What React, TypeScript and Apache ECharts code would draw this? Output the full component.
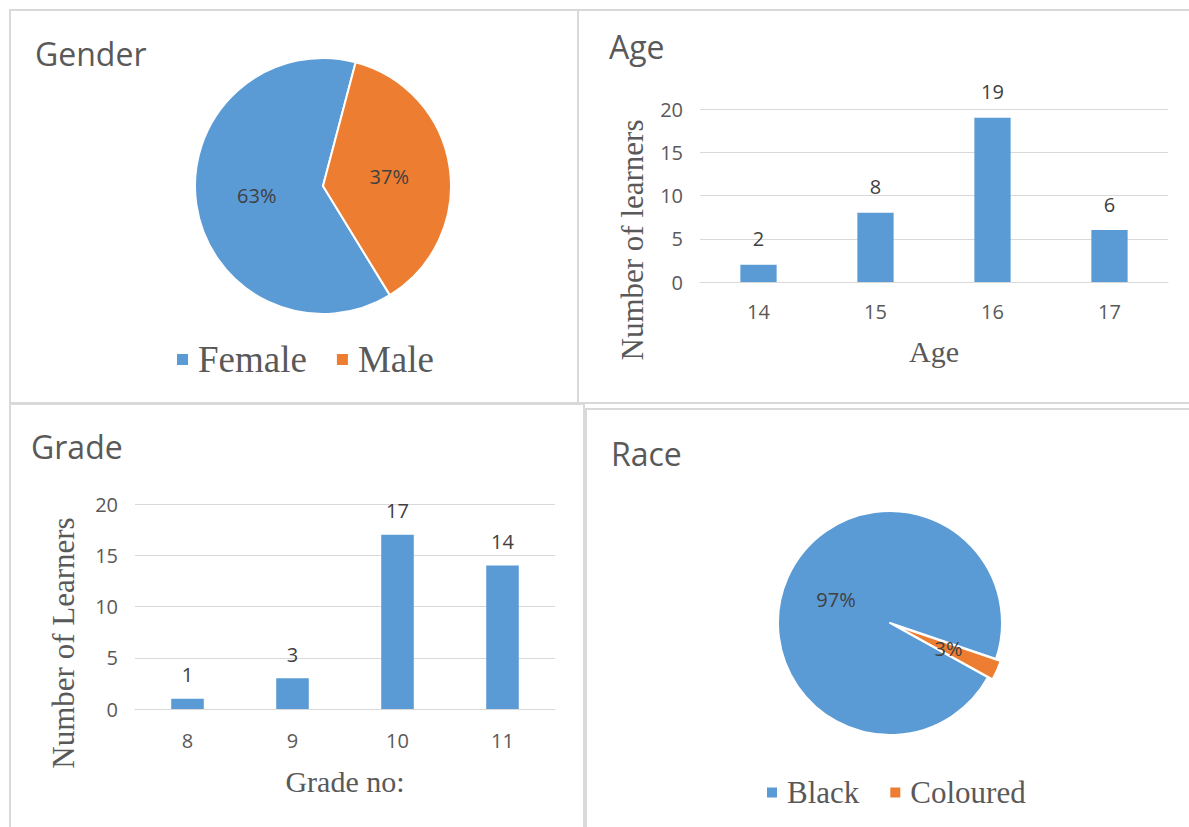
import React, { useEffect, useRef } from "react";
import * as echarts from "echarts";

// ---- data ----
const genderLabels = ["Female", "Male"];
const genderCounts = [22, 13];
const ageCategories = ["14", "15", "16", "17"];
const ageCounts = [2, 8, 19, 6];
const gradeCategories = ["8", "9", "10", "11"];
const gradeCounts = [1, 3, 17, 14];
const raceLabels = ["Black", "Coloured"];
const raceCounts = [34, 1];
const yMin = 0;
const yMax = 20;
const yInterval = 5;

// ---- styles ----
const BLUE = "#5b9bd5";
const ORANGE = "#ed7d31";
const SANS = "'Open Sans', sans-serif";
const SERIF = "'Liberation Serif', 'Times New Roman', serif";
const GREY_TEXT = "#595959";
const DARK_TEXT = "#404040";
const LINE = "#d9d9d9";

const pct = (p: any) => Math.round(p.percent) + "%";

export default function App() {
  const ref = useRef<HTMLDivElement>(null);
  useEffect(() => {
    if (!ref.current) return;
    const chart = echarts.init(ref.current, undefined, { renderer: "svg" });

    const titleStyle = { fontFamily: SANS, fontSize: 32, fontWeight: "normal" as const, color: GREY_TEXT };
    const valueAxis = (gridIndex: number) => ({
      type: "value",
      gridIndex,
      min: yMin,
      max: yMax,
      interval: yInterval,
      axisLine: { show: false },
      axisTick: { show: false },
      splitLine: { lineStyle: { color: LINE, width: 1 } },
      axisLabel: { color: GREY_TEXT, fontFamily: SANS, fontSize: 20, margin: 17 },
    });
    const catAxis = (gridIndex: number, data: string[], name: string, nameGap: number, margin: number) => ({
      type: "category",
      gridIndex,
      data,
      name,
      nameLocation: "middle",
      nameGap,
      nameTextStyle: { fontFamily: SERIF, fontSize: 30, color: GREY_TEXT },
      axisLine: { lineStyle: { color: LINE, width: 1 } },
      axisTick: { show: false },
      axisLabel: { color: GREY_TEXT, fontFamily: SANS, fontSize: 20, margin },
    });
    const barLabel = (distance: number) => ({
      show: true,
      position: "top",
      distance,
      color: DARK_TEXT,
      fontFamily: SANS,
      fontSize: 20,
    });
    const rect = (x: number, y: number, w: number, h: number) => ({
      type: "rect",
      shape: { x, y, width: w, height: h },
      style: { fill: "none", stroke: LINE, lineWidth: 2 },
      silent: true,
      z: -1,
    });

    chart.setOption({
      animation: false,
      backgroundColor: "#ffffff",
      title: [
        { text: "Gender", left: 35, top: 37, padding: 0, textStyle: titleStyle },
        { text: "Age", left: 609, top: 30, padding: 0, textStyle: titleStyle },
        { text: "Grade", left: 31, top: 430, padding: 0, textStyle: titleStyle },
        { text: "Race", left: 611, top: 437, padding: 0, textStyle: titleStyle },
      ],
      legend: [
        {
          data: genderLabels,
          left: 175,
          top: 341,
          padding: 0,
          icon: "rect",
          itemWidth: 13,
          itemHeight: 13,
          itemGap: 28,
          selectedMode: false,
          textStyle: { fontFamily: SERIF, fontSize: 37, color: GREY_TEXT, padding: [0, 0, 0, 4] },
        },
        {
          data: raceLabels,
          left: 765,
          top: 777,
          padding: 0,
          icon: "rect",
          itemWidth: 12,
          itemHeight: 12,
          itemGap: 29,
          selectedMode: false,
          textStyle: { fontFamily: SERIF, fontSize: 31, color: GREY_TEXT, padding: [0, 0, 0, 4] },
        },
      ],
      grid: [
        { left: 700, right: 21, top: 109, bottom: 545, containLabel: false },
        { left: 135, right: 634, top: 504, bottom: 118, containLabel: false },
      ],
      xAxis: [
        catAxis(0, ageCategories, "Age", 54, 19),
        catAxis(1, gradeCategories, "Grade no:", 57, 21),
      ],
      yAxis: [valueAxis(0), valueAxis(1)],
      series: [
        {
          type: "pie",
          center: [323, 186],
          radius: 128,
          startAngle: 301.5,
          clockwise: true,
          silent: true,
          avoidLabelOverlap: false,
          itemStyle: { borderColor: "#ffffff", borderWidth: 2 },
          label: { show: true, position: "inside", formatter: pct, color: DARK_TEXT, fontFamily: SANS, fontSize: 20 },
          labelLine: { show: false },
          emphasis: { disabled: true },
          data: genderLabels.map((n, i) => ({ name: n, value: genderCounts[i], itemStyle: { color: i === 0 ? BLUE : ORANGE } })),
        },
        {
          type: "bar",
          xAxisIndex: 0,
          yAxisIndex: 0,
          data: ageCounts,
          barWidth: "31%",
          itemStyle: { color: BLUE },
          label: barLabel(16),
          silent: true,
        },
        {
          type: "bar",
          xAxisIndex: 1,
          yAxisIndex: 1,
          data: gradeCounts,
          barWidth: "31%",
          itemStyle: { color: BLUE },
          label: barLabel(14),
          silent: true,
        },
        {
          type: "pie",
          center: [890, 623],
          radius: 112,
          startAngle: 331,
          clockwise: true,
          selectedMode: "single",
          selectedOffset: 5,
          avoidLabelOverlap: false,
          itemStyle: { borderColor: "#ffffff", borderWidth: 2 },
          label: { show: true, position: "inside", formatter: pct, color: DARK_TEXT, fontFamily: SANS, fontSize: 20 },
          labelLine: { show: false },
          emphasis: { disabled: true },
          data: raceLabels.map((n, i) => ({
            name: n,
            value: raceCounts[i],
            selected: i === 1,
            itemStyle: { color: i === 0 ? BLUE : ORANGE },
          })),
        },
      ],
      graphic: [
        rect(10, 10, 568, 393),
        rect(578, 10, 620, 393),
        rect(10, 404, 574, 430),
        rect(586, 409, 612, 430),
        {
          type: "text",
          x: 632,
          y: 240,
          rotation: Math.PI / 2,
          silent: true,
          style: { text: "Number of learners", fontFamily: SERIF, fontSize: 31, fill: GREY_TEXT, align: "center", verticalAlign: "middle" },
        },
        {
          type: "text",
          x: 63,
          y: 643,
          rotation: Math.PI / 2,
          silent: true,
          style: { text: "Number of Learners", fontFamily: SERIF, fontSize: 31, fill: GREY_TEXT, align: "center", verticalAlign: "middle" },
        },
      ],
    });
    return () => chart.dispose();
  }, []);
  return <div ref={ref} style={{ position: "absolute", left: 0, top: 0, width: 1189, height: 827 }} />;
}
